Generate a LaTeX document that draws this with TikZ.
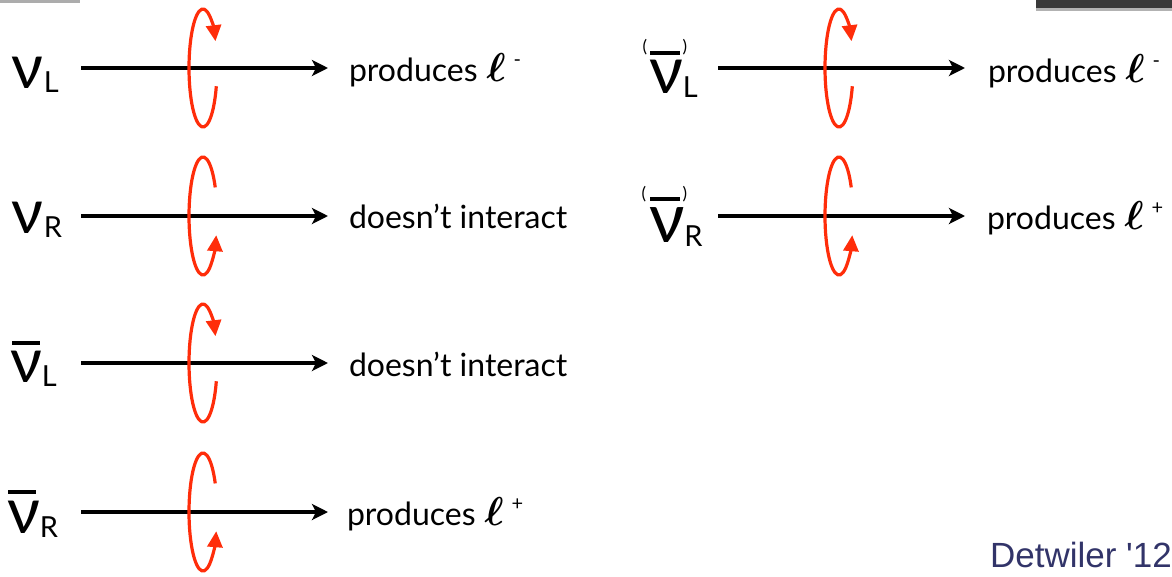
\documentclass[tikz,border=0pt]{standalone}
\usepackage{fontspec}
\setmainfont{Lato}
\newfontfamily\detfont{Liberation Sans}
\usetikzlibrary{arrows.meta}
\definecolor{spinred}{RGB}{255,45,10}
\definecolor{detblue}{RGB}{50,52,105}
\newcommand{\nusym}[1]{{\fontsize{#1}{#1}\selectfont ν}}
\newcommand{\subsym}[1]{\raisebox{-4pt}{\fontsize{29}{29}\selectfont #1}}
\newcommand{\lep}[1]{\hspace{9pt}\resizebox{!}{28pt}{\boldmath$\ell$}\hspace{8pt}\raisebox{15pt}{\fontsize{20}{20}\selectfont #1}}
\tikzset{
  x=1pt, y=-1pt,
  beam/.style={line width=3.2pt, -{Stealth[length=16pt,width=16pt,inset=4pt]}},
  spinL/.style={spinred, line width=3.2pt, -{Triangle[length=16pt,width=15pt]}},
  spinR/.style={spinred, line width=3.2pt, -{Triangle[length=16pt,width=15pt]}},
  lbl/.style={anchor=base west, inner sep=0pt, outer sep=0pt},
  txt/.style={anchor=base west, inner sep=0pt, outer sep=0pt, font=\fontsize{32}{32}\selectfont},
  bar/.style={line width=3.8pt},
  paren/.style={anchor=base, inner sep=0pt, font=\fontsize{17}{17}\selectfont}
}
\begin{document}
\begin{tikzpicture}
\useasboundingbox (0,0) rectangle (1172,576);
% slide artifacts
\fill[gray!65] (0,0) rectangle (80,3);
\fill[gray!45!black] (1036,0) rectangle (1172,8);
\fill[gray!60] (1036,8) rectangle (1172,11);

% ---------- left column ----------
% row 1: nu_L
\node[lbl] (n1) at (12,88) {\nusym{62}\subsym{L}};
\coordinate (s1) at (81,68);
\coordinate (e1) at (328,68);
\draw[beam] (s1) -- (e1);
\node[txt] (t1) at (349,81) {produces\lep{-}};
\coordinate (c1) at (203,68);
\draw[spinL] (c1) ++(18:14 and 59) arc[start angle=18, end angle=333, x radius=14, y radius=59];

% row 2: nu_R
\node[lbl] (n2) at (12,233) {\nusym{62}\subsym{R}};
\coordinate (s2) at (81,216);
\coordinate (e2) at (328,216);
\draw[beam] (s2) -- (e2);
\node[txt] (t2) at (349,228) {doesn’t interact};
\coordinate (c2) at (203,216);
\draw[spinR] (c2) ++(-29:14 and 59) arc[start angle=-29, end angle=-341, x radius=14, y radius=59];

% row 3: anti-nu_L
\node[lbl] (n3) at (10,382) {\nusym{62}\subsym{L}};
\draw[bar] (12,343) -- (40,343);
\coordinate (s3) at (81,363);
\coordinate (e3) at (328,363);
\draw[beam] (s3) -- (e3);
\node[txt] (t3) at (349,376) {doesn’t interact};
\coordinate (c3) at (203,363);
\draw[spinL] (c3) ++(18:14 and 59) arc[start angle=18, end angle=333, x radius=14, y radius=59];

% row 4: anti-nu_R
\node[lbl] (n4) at (7,533) {\nusym{64}\subsym{R}};
\draw[bar] (8,492) -- (36,492);
\coordinate (s4) at (81,512);
\coordinate (e4) at (328,512);
\draw[beam] (s4) -- (e4);
\node[txt] (t4) at (347,525) {produces\lep{+}};
\coordinate (c4) at (203,512);
\draw[spinR] (c4) ++(-29:14 and 59) arc[start angle=-29, end angle=-341, x radius=14, y radius=59];

% ---------- right column ----------
% row 1: (anti)nu_L
\node[lbl, text height=31pt] (n5) at (649,93) {\nusym{66}\subsym{L}};
\draw[bar] (650,53) -- (680,53);
\node[paren] (p5a) at (645,52) {(};
\node[paren] (p5b) at (685,52) {)};
\coordinate (s5) at (718,68);
\coordinate (e5) at (965,68);
\draw[beam] (s5) -- (e5);
\node[txt] (t5) at (988,82) {produces\lep{-}};
\coordinate (c5) at (839,68);
\draw[spinL] (c5) ++(18:14 and 59) arc[start angle=18, end angle=333, x radius=14, y radius=59];

% row 2: (anti)nu_R
\node[lbl, text height=35pt] (n6) at (649,242) {\nusym{69}\subsym{R}};
\draw[bar] (650,199) -- (680,199);
\node[paren] (p6a) at (644,199) {(};
\node[paren] (p6b) at (685,199) {)};
\coordinate (s6) at (718,216);
\coordinate (e6) at (965,216);
\draw[beam] (s6) -- (e6);
\node[txt] (t6) at (987,229) {produces\lep{+}};
\coordinate (c6) at (839,216);
\draw[spinR] (c6) ++(-29:14 and 59) arc[start angle=-29, end angle=-341, x radius=14, y radius=59];

% credit
\node[anchor=base east, inner sep=0pt, text=detblue, font=\detfont\fontsize{35}{35}\selectfont] (cr) at (1172,567) {Detwiler '12};
\end{tikzpicture}
\end{document}
